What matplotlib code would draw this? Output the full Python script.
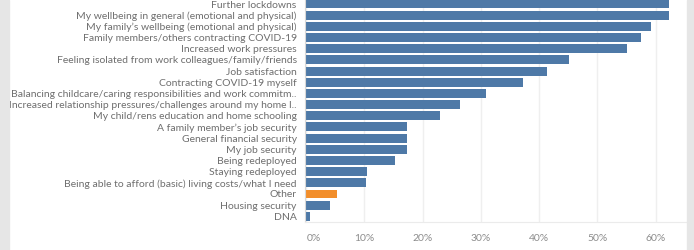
import matplotlib.pyplot as plt
import matplotlib.transforms as mtransforms
from matplotlib.patches import Rectangle

categories = [
    "Further lockdowns",
    "My wellbeing in general (emotional and physical)",
    "My family\u2019s wellbeing (emotional and physical)",
    "Family members/others contracting COVID-19",
    "Increased work pressures",
    "Feeling isolated from work colleagues/family/friends",
    "Job satisfaction",
    "Contracting COVID-19 myself",
    "Balancing childcare/caring responsibilities and work commitm..",
    "Increased relationship pressures/challenges around my home l..",
    "My child/rens education and home schooling",
    "A family member\u2019s job security",
    "General financial security",
    "My job security",
    "Being redeployed",
    "Staying redeployed",
    "Being able to afford (basic) living costs/what I need",
    "Other",
    "Housing security",
    "DNA",
]
values = [62.3, 62.2, 59.2, 57.4, 55.1, 45.2, 41.3, 37.2, 30.8, 26.4,
          23.0, 17.3, 17.3, 17.3, 15.2, 10.4, 10.3, 5.3, 4.1, 0.7]
highlight = "Other"
xticks = [0, 10, 20, 30, 40, 50, 60]

BLUE = "#4e79a7"
ORANGE = "#f28e2b"

plt.rcParams["font.family"] = ["Lato", "DejaVu Sans"]

fig = plt.figure(figsize=(6.94, 2.5), dpi=100)
# grey side strips
fig.patches.append(Rectangle((0, 0), 9 / 694, 1, transform=fig.transFigure,
                             color="#e6e6e6", zorder=0))
fig.patches.append(Rectangle((687 / 694, 0), 7 / 694, 1, transform=fig.transFigure,
                             color="#e6e6e6", zorder=0))

ax = fig.add_axes([305 / 694, 28.3 / 250, 381 / 694, 221.7 / 250])
pos = list(range(len(categories)))
colors = [ORANGE if c == highlight else BLUE for c in categories]
ax.barh(pos, values, height=0.8, color=colors, zorder=2)

ax.set_ylim(19.48, -0.36)
ax.set_xlim(-0.2, 65.2)
ax.set_yticks(pos)
ax.set_yticklabels(categories, fontsize=7.5, color="#6e6e6e")
ax.set_xticks(xticks)
ax.set_xticklabels([f"{t}%" for t in xticks], fontsize=7.5, color="#8c8c8c")
ax.tick_params(length=0)
ax.tick_params(axis="y", pad=6)
ax.tick_params(axis="x", pad=9)
# first tick label sits just right of the zero line
first = ax.get_xticklabels()[0]
first.set_transform(first.get_transform() +
                    mtransforms.ScaledTranslation(8 / 100, 0, fig.dpi_scale_trans))
ax.xaxis.grid(True, color="#efefef", linewidth=1, zorder=0)
for s in ["top", "right"]:
    ax.spines[s].set_visible(False)
ax.spines["bottom"].set_color("#ebebeb")
ax.spines["left"].set_color("#d8d8d8")
ax.set_axisbelow(True)

fig.savefig("out.png", dpi=100)
